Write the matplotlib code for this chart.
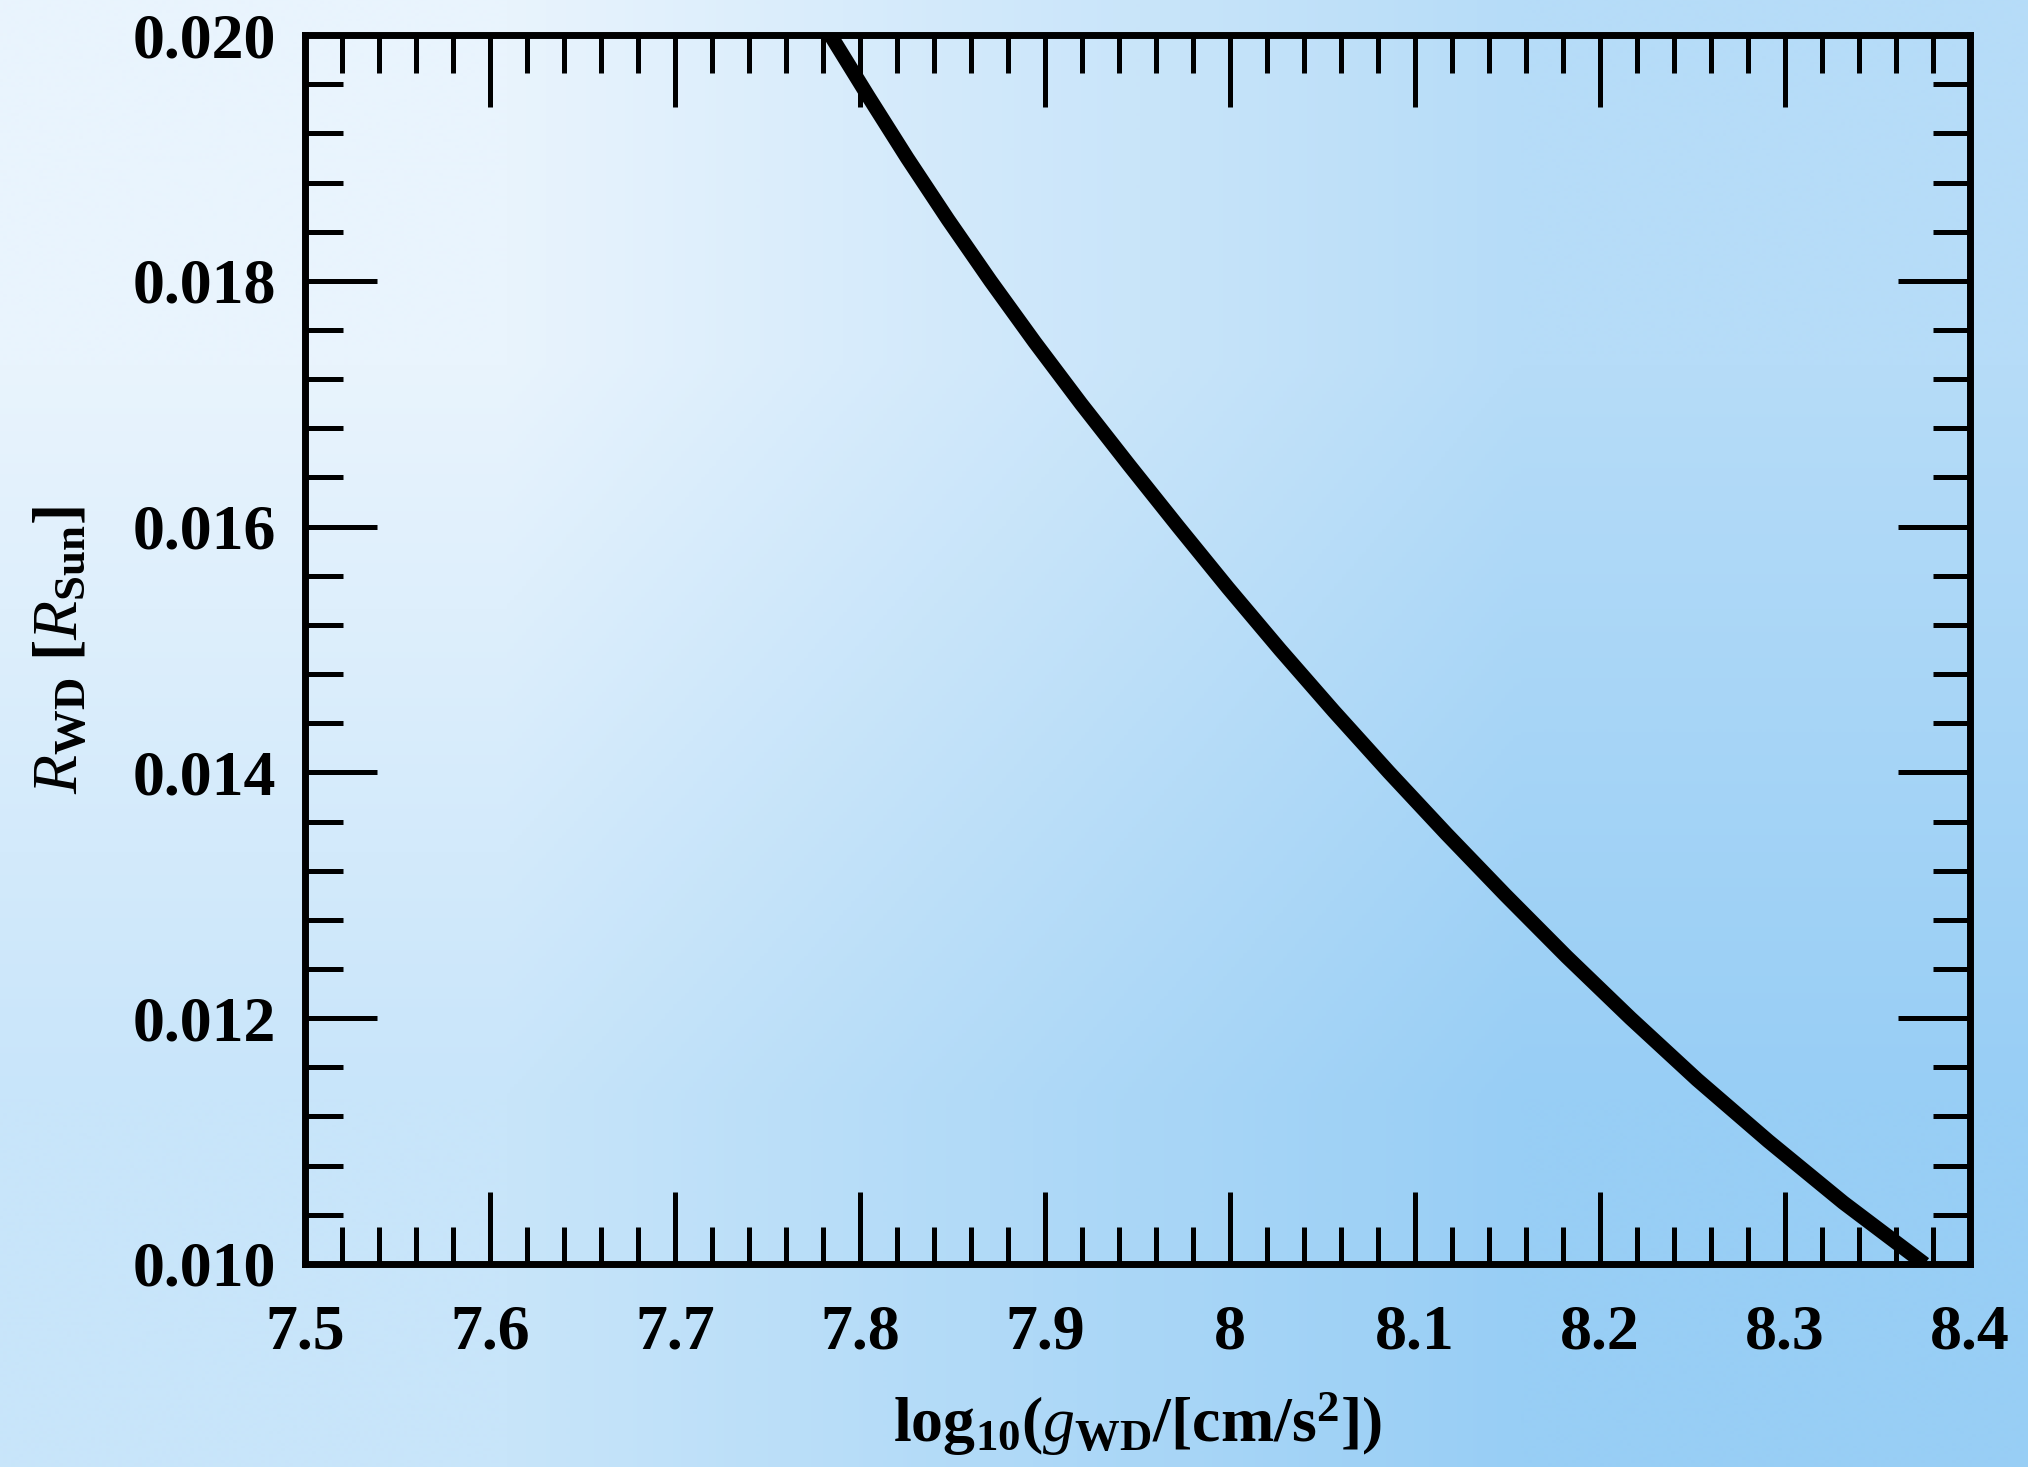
import numpy as np
import matplotlib
matplotlib.use("Agg")
import matplotlib.pyplot as plt
from matplotlib.ticker import MultipleLocator, FixedLocator, FixedFormatter

# curve: white dwarf radius vs surface gravity
radio = [0.0200, 0.0195, 0.0190, 0.0185, 0.0180, 0.0175, 0.0170, 0.0165,
         0.0160, 0.0155, 0.0150, 0.0145, 0.0140, 0.0135, 0.0130, 0.0125,
         0.0120, 0.0115, 0.0110, 0.0105, 0.0100]
log_g = [7.7840, 7.8045, 7.8255, 7.8475, 7.8705, 7.8945, 7.9195, 7.9455,
         7.9720, 7.9990, 8.0270, 8.0560, 8.0860, 8.1170, 8.1490, 8.1820,
         8.2165, 8.2525, 8.2910, 8.3315, 8.3755]

xticks = [7.5, 7.6, 7.7, 7.8, 7.9, 8.0, 8.1, 8.2, 8.3, 8.4]
xtick_labels = ["7.5", "7.6", "7.7", "7.8", "7.9", "8", "8.1", "8.2", "8.3", "8.4"]
yticks = [0.010, 0.012, 0.014, 0.016, 0.018, 0.020]
ytick_labels = ["0.010", "0.012", "0.014", "0.016", "0.018", "0.020"]

plt.rcParams['font.family'] = ['Liberation Serif', 'DejaVu Serif']
plt.rcParams['font.weight'] = 'bold'
plt.rcParams['mathtext.fontset'] = 'custom'
plt.rcParams['mathtext.rm'] = 'Liberation Serif:bold'
plt.rcParams['mathtext.bf'] = 'Liberation Serif:bold'
plt.rcParams['mathtext.it'] = 'Liberation Serif:italic:normal'

fig = plt.figure(figsize=(20.28, 14.67), dpi=100)

# fondo con degradado diagonal
bg = fig.add_axes([0, 0, 1, 1], zorder=-10)
esquinas = np.array([[[233, 244, 253], [182, 220, 248]],
                     [[200, 229, 250], [152, 206, 245]]]) / 255.0
bg.imshow(esquinas, interpolation='bilinear', aspect='auto', extent=[0, 1, 0, 1])
bg.set_axis_off()

ax = fig.add_axes([0.1504, 0.1384, 0.8210, 0.8377])
ax.patch.set_alpha(0)

ax.plot(log_g, radio, color='black', lw=10.5, solid_capstyle='butt',
        solid_joinstyle='round')

ax.set_xlim(7.5, 8.4)
ax.set_ylim(0.010, 0.020)

ax.xaxis.set_major_locator(FixedLocator(xticks))
ax.xaxis.set_major_formatter(FixedFormatter(xtick_labels))
ax.xaxis.set_minor_locator(MultipleLocator(0.02))
ax.yaxis.set_major_locator(FixedLocator(yticks))
ax.yaxis.set_major_formatter(FixedFormatter(ytick_labels))
ax.yaxis.set_minor_locator(MultipleLocator(0.0004))

ax.tick_params(which='both', direction='in', top=True, right=True, width=3.6)
ax.tick_params(which='major', length=52, labelsize=46)
ax.tick_params(axis='x', which='major', pad=29)
ax.tick_params(axis='y', which='major', pad=21)
ax.tick_params(which='minor', length=27)
for s in ax.spines.values():
    s.set_linewidth(5)

ax.set_xlabel(r'$\mathrm{log}_{10}(g_{\mathrm{WD}}/[\mathrm{cm/s}^{2}])$', fontsize=46, labelpad=20)
ax.set_ylabel(r'$R_{\mathrm{WD}}\ [R_{\mathrm{Sun}}]$', fontsize=46, labelpad=29)

fig.savefig('out.png', dpi=100)
